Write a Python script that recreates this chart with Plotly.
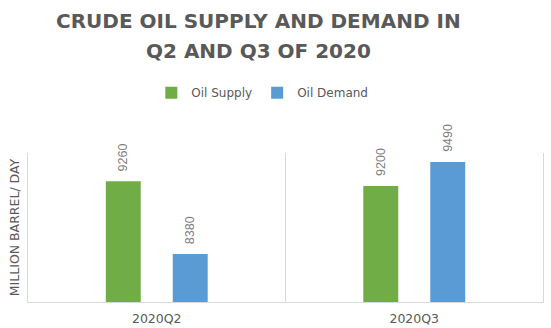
import plotly.graph_objects as go

quarters = ["2020Q2", "2020Q3"]
oil_supply = [9260, 9200]
oil_demand = [8380, 9490]
series_names = ["Oil Supply", "Oil Demand"]
title_lines = ["CRUDE OIL SUPPLY AND DEMAND IN", "Q2 AND Q3 OF 2020"]
y_title = "MILLION BARREL/ DAY"

GREEN = "#70ad47"
BLUE = "#5b9bd5"
GRAY = "#595959"
LABEL_GRAY = "#7f7f7f"
GRID = "#d9d9d9"

BARGAP = 0.48
GROUPGAP = 0.478
# centre offset of each bar within its category group (category units)
slot_offset = (1 - BARGAP) / 4

fig = go.Figure()
series = [(series_names[0], oil_supply, GREEN, -slot_offset),
          (series_names[1], oil_demand, BLUE, slot_offset)]
annotations = []
for name, vals, color, off in series:
    fig.add_trace(go.Bar(
        x=quarters, y=vals, name=name,
        marker=dict(color=color, line=dict(width=0)),
    ))
    # rotated value labels sitting above each bar
    for i, v in enumerate(vals):
        annotations.append(dict(
            x=i + off, y=v, xref="x", yref="y", text=str(v),
            textangle=-90, showarrow=False, yanchor="bottom", yshift=8,
            font=dict(family="Liberation Sans", size=12.5, color=LABEL_GRAY),
        ))

# two-line chart title
for k, line in enumerate(title_lines):
    annotations.append(dict(
        text="<b>" + line + "</b>", xref="paper", yref="paper",
        x=0.447, y=1.0, yanchor="middle", yshift=[132, 102][k],
        showarrow=False, font=dict(family="DejaVu Sans", size=20, color=GRAY),
    ))

fig.update_layout(
    width=551, height=328,
    margin=dict(l=28, r=8, t=153, b=26),
    paper_bgcolor="white", plot_bgcolor="white",
    barmode="group", bargap=BARGAP, bargroupgap=GROUPGAP,
    showlegend=True,
    legend=dict(orientation="h", x=0.455, xanchor="center", y=1.405, yanchor="middle",
                font=dict(family="DejaVu Sans", size=12, color=GRAY),
                itemwidth=30, traceorder="normal"),
    annotations=annotations,
    xaxis=dict(
        type="category", range=[-0.5, 1.5], automargin=False,
        tickson="boundaries", ticks="", ticklabelstandoff=5,
        showgrid=True, gridcolor=GRID, gridwidth=1,
        showline=True, linecolor=GRID, linewidth=1,
        tickfont=dict(family="DejaVu Sans", size=12.5, color=GRAY),
    ),
    yaxis=dict(
        range=[7800, 9600], automargin=False,
        showgrid=False, showticklabels=False, ticks="",
        zeroline=False, showline=True, mirror=True, linecolor=GRID, linewidth=1,
        title=dict(text=y_title, font=dict(family="DejaVu Sans", size=12.5, color=GRAY),
                   standoff=4),
    ),
)

fig.write_html("out.html")
